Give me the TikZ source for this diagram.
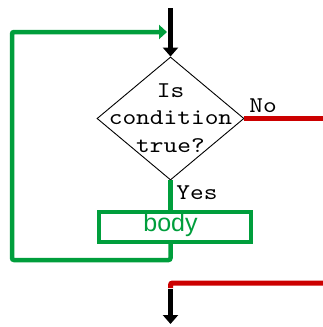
\documentclass[tikz,border=0pt]{standalone}
\usepackage{fontspec}
\newfontfamily\monof{lmmono10-regular.otf}[FakeStretch=1.16]
\newfontfamily\arialf{Liberation Sans}
\usetikzlibrary{shapes.geometric,arrows.meta}
\definecolor{loopgreen}{RGB}{0,158,60}
\definecolor{exitred}{RGB}{204,0,0}
\begin{document}
\begin{tikzpicture}[x=1pt,y=-1pt,
  greenline/.style={draw=loopgreen,line width=4.5pt},
  redline/.style={draw=exitred,line width=5pt},
  blackarrow/.style={draw=black,line width=5pt,-{Triangle[width=15pt,length=9pt]}},
  monotext/.style={font=\monof\fontsize{22.5}{27.5}\selectfont,inner sep=0pt,align=center},
  decision/.style={draw=black,line width=0.9pt,shape=diamond,inner sep=0pt,minimum width=147pt,minimum height=123pt},
  bodybox/.style={draw=loopgreen,line width=4pt,minimum width=152pt,minimum height=30pt,inner sep=0pt}
]
\useasboundingbox (0,0) rectangle (323,327);
% nodes
\node[decision] (d) at (170.5,118.5) {};
\node[monotext] (dtxt) at (170.5,118) {Is\\condition\\true?};
\node[bodybox] (b) at (175,226.5) {};
\node[font=\arialf\fontsize{25}{25}\selectfont,text=loopgreen,inner sep=0pt] (btxt) at (170.5,225) {body};
\node[monotext] (yes) at (197,193) {Yes};
\node[monotext] (no) at (263,106) {No};
% coordinates
\coordinate (topstart) at (170.5,8);
\coordinate (loopA) at (170.5,260);
\coordinate (loopB) at (12,260);
\coordinate (loopC) at (12,32);
\coordinate (loopend) at (167,32);
\coordinate (noend) at (323,118.5);
\coordinate (redA) at (323,283);
\coordinate (redB) at (170.5,283);
\coordinate (redC) at (170.5,288);
\coordinate (botstart) at (170.5,289);
\coordinate (botend) at (170.5,324);
% connectors
\draw[blackarrow] (topstart) -- (d.north);
\draw[greenline] (d.south) -- (b.north -| d.south);
\draw[greenline,rounded corners=2pt,-{Triangle[width=14pt,length=8pt]},color=loopgreen] (b.south -| d.south) -- (loopA) -- (loopB) -- (loopC) -- (loopend);
\draw[redline] (d.east) -- (noend);
\draw[redline,rounded corners=2pt] (redA) -- (redB) -- (redC);
\draw[blackarrow] (botstart) -- (botend);
\end{tikzpicture}
\end{document}
